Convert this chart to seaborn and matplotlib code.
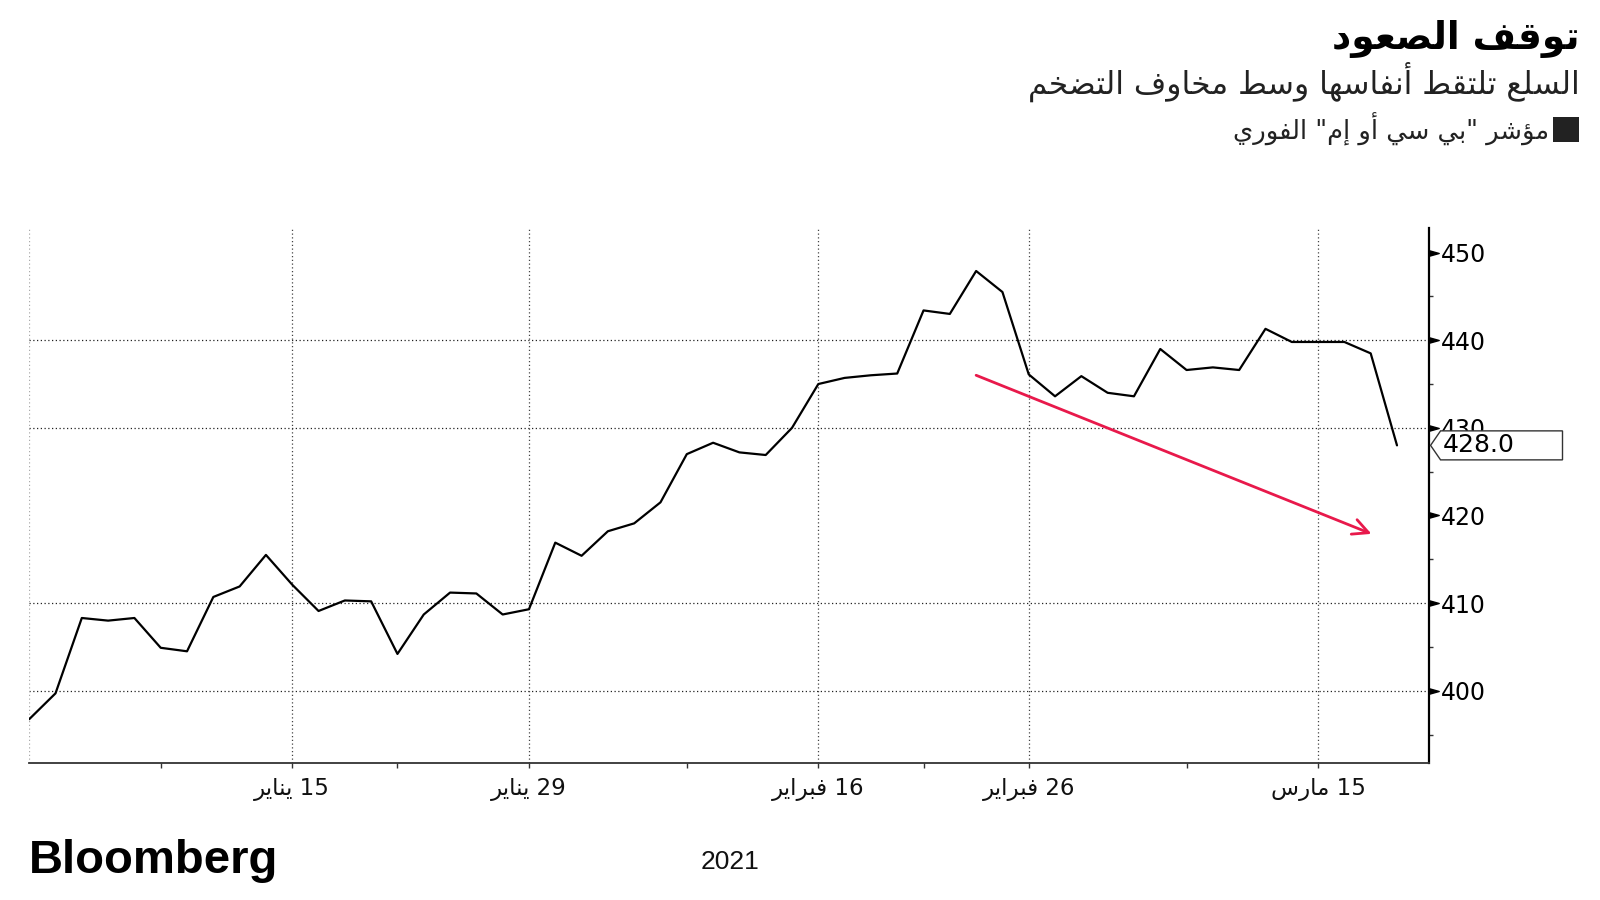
import numpy as np
import pandas as pd
import matplotlib
matplotlib.use("Agg")
import matplotlib.pyplot as plt
import seaborn as sns
from matplotlib.patches import Polygon, Rectangle
from matplotlib.path import Path
from matplotlib.markers import MarkerStyle
from matplotlib.transforms import IdentityTransform

# ---------------- data ----------------
holidays = ["2021-01-01", "2021-01-18", "2021-02-15"]
start_date = "2020-12-31"
end_date = "2021-03-18"
values = [396.75, 399.7, 408.3, 408.0, 408.3, 404.9, 404.5, 410.7, 411.9, 415.5,
          412.1, 409.1, 410.3, 410.2, 404.2, 408.7, 411.2, 411.1, 408.7, 409.3,
          416.9, 415.4, 418.2, 419.1, 421.5, 427.0, 428.3, 427.2, 426.9, 430.0,
          435.0, 435.7, 436.0, 436.2, 443.4, 443.0, 447.9, 445.5, 436.1, 433.6,
          435.9, 434.0, 433.6, 439.0, 436.6, 436.9, 436.6, 441.3, 439.8, 439.8,
          439.8, 438.5, 428.0]
major_dates = ["2021-01-15", "2021-01-29", "2021-02-16", "2021-02-26", "2021-03-15"]
major_labels = ["15 يناير", "29 يناير", "16 فبراير", "26 فبراير", "15 مارس"]
minor_dates = ["2021-01-08", "2021-01-22", "2021-02-08", "2021-02-22", "2021-03-08"]
y_ticks = [400, 410, 420, 430, 440, 450]
y_minor = [395, 405, 415, 425, 435, 445]
grid_levels = [400, 410, 430, 440]
arrow_from = ("2021-02-24", 436.0)
arrow_to = ("2021-03-17", 417.9)
last_label = "428.0"

title = "توقف الصعود"
subtitle = "السلع تلتقط أنفاسها وسط مخاوف التضخم"
legend_label = 'مؤشر "بي سي أو إم" الفوري'
source = "Bloomberg"
year_label = "2021"

# ---------------- minimal Arabic shaping (presentation forms) ----------------
FOUR = {0x0626: 0xFE89, 0x0628: 0xFE8F, 0x062A: 0xFE95, 0x062B: 0xFE99, 0x062C: 0xFE9D,
        0x062D: 0xFEA1, 0x062E: 0xFEA5, 0x0633: 0xFEB1, 0x0634: 0xFEB5, 0x0635: 0xFEB9,
        0x0636: 0xFEBD, 0x0637: 0xFEC1, 0x0638: 0xFEC5, 0x0639: 0xFEC9, 0x063A: 0xFECD,
        0x0641: 0xFED1, 0x0642: 0xFED5, 0x0643: 0xFED9, 0x0644: 0xFEDD, 0x0645: 0xFEE1,
        0x0646: 0xFEE5, 0x0647: 0xFEE9, 0x064A: 0xFEF1}
TWO = {0x0622: 0xFE81, 0x0623: 0xFE83, 0x0624: 0xFE85, 0x0625: 0xFE87, 0x0627: 0xFE8D,
       0x0629: 0xFE93, 0x062F: 0xFEA9, 0x0630: 0xFEAB, 0x0631: 0xFEAD, 0x0632: 0xFEAF,
       0x0648: 0xFEED, 0x0649: 0xFEEF}
LAMALEF = {0x0622: 0xFEF5, 0x0623: 0xFEF7, 0x0625: 0xFEF9, 0x0627: 0xFEFB}


def shape(s):
    out = []
    i, n = 0, len(s)
    while i < n:
        c = s[i]
        o = ord(c)
        prev = s[i - 1] if i > 0 else ""
        pj = bool(prev) and ord(prev) in FOUR
        if o == 0x0644 and i + 1 < n and ord(s[i + 1]) in LAMALEF:
            out.append(chr(LAMALEF[ord(s[i + 1])] + (1 if pj else 0)))
            i += 2
            continue
        nxt = s[i + 1] if i + 1 < n else ""
        nj = bool(nxt) and (ord(nxt) in FOUR or ord(nxt) in TWO)
        if o in FOUR:
            b = FOUR[o]
            if pj and nj:
                out.append(chr(b + 3))
            elif pj:
                out.append(chr(b + 1))
            elif nj:
                out.append(chr(b + 2))
            else:
                out.append(chr(b))
        elif o in TWO:
            out.append(chr(TWO[o] + (1 if pj else 0)))
        elif o == 0x0621:
            out.append("\uFE80")
        else:
            out.append(c)
        i += 1
    return "".join(out)


def ar(s):
    t = shape(s)
    runs, cur, cur_ltr = [], "", None
    for ch in t:
        is_ltr = ch.isascii() and (ch.isalnum() or ch == ".")
        if cur_ltr is None or is_ltr == cur_ltr:
            cur += ch
        else:
            runs.append((cur, cur_ltr))
            cur = ch
        cur_ltr = is_ltr
    if cur:
        runs.append((cur, cur_ltr))
    return "".join(r if l else r[::-1] for r, l in reversed(runs))


# ---------------- figure ----------------
sns.set_style("white")
plt.rcParams["font.family"] = ["DejaVu Sans"]

dates = pd.bdate_range(start_date, end_date, freq="C", holidays=holidays)
df = pd.DataFrame({"pos": np.arange(len(dates)), "value": values})
loc = lambda d: dates.get_loc(pd.Timestamp(d))

fig = plt.figure(figsize=(16, 9), dpi=100)
ax = fig.add_axes([0.01825, 0.1522, 0.8746, 0.5944])

for v in grid_levels:
    ax.axhline(v, color="#222222", lw=0.9, ls=(0, (1, 2)), zorder=0.5)
for d in major_dates:
    ax.axvline(loc(d), color="#444444", lw=0.9, ls=(0, (1, 2)), zorder=0.5)
ax.axvline(0, color="#aaaaaa", lw=0.9, ls=(0, (1, 2)), zorder=0.5)

sns.lineplot(data=df, x="pos", y="value", ax=ax, color="black", lw=1.6, zorder=3)

ax.set_xlim(0, 53.2)
ax.set_ylim(391.75, 452.8)
ax.set_xlabel("")
ax.set_ylabel("")

for s in ["top", "left"]:
    ax.spines[s].set_visible(False)
ax.spines["right"].set_color("black")
ax.spines["right"].set_linewidth(1.6)
ax.spines["bottom"].set_color("#333333")
ax.spines["bottom"].set_linewidth(1.3)

# y axis on the right
ax.yaxis.tick_right()
ax.set_yticks(y_ticks)
ax.set_yticklabels([str(v) for v in y_ticks])
ax.set_yticks(y_minor, minor=True)
ax.tick_params(axis="y", which="major", length=0, pad=9, labelsize=17,
               labelcolor="black", right=True, left=False)
ax.tick_params(axis="y", which="minor", length=3, width=1, color="#333333",
               direction="out", right=True, left=False)
tri = MarkerStyle(Path([(0, -0.28), (0, 0.28), (1, 0), (0, -0.28)], closed=True))
ax.plot(np.ones(len(y_ticks)), y_ticks, transform=ax.get_yaxis_transform(),
        marker=tri, ms=14, color="black", ls="none", clip_on=False, zorder=4)

# x axis
ax.set_xticks([loc(d) for d in major_dates])
ax.set_xticklabels([ar(s) for s in major_labels])
ax.set_xticks([loc(d) for d in minor_dates], minor=True)
ax.tick_params(axis="x", which="both", length=3.5, width=1, color="#333333",
               direction="out", bottom=True, pad=7, labelsize=16.5, labelcolor="#111111")

# red trend arrow
ax.annotate("", xy=(loc(arrow_to[0]) + 0.03, arrow_to[1]),
            xytext=(loc(arrow_from[0]), arrow_from[1]),
            arrowprops=dict(arrowstyle="->", color="#e8194b", lw=2.0,
                            mutation_scale=28, shrinkA=0, shrinkB=0),
            zorder=5)

# last value flag
yv = ax.transData.transform((0, values[-1]))[1]
xs = ax.transAxes.transform((1, 0))[0]
h = 14.5
flag = Polygon([(xs + 2, yv), (xs + 12, yv + h), (1562.5, yv + h), (1562.5, yv - h),
                (xs + 12, yv - h)], closed=True, transform=IdentityTransform(),
               facecolor="white", edgecolor="#333333", lw=1.0, zorder=10)
fig.add_artist(flag)
fig.text((xs + 14) / 1600, yv / 900, last_label, fontsize=18, ha="left", va="center",
         color="black", zorder=11)

# titles
fig.text(0.9875, 0.957, ar(title), fontsize=27, fontweight="bold", ha="right",
         va="center", color="black")
fig.text(0.9875, 0.909, ar(subtitle), fontsize=22.5, ha="right", va="center",
         color="#222222")
fig.text(0.968, 0.856, ar(legend_label), fontsize=18.5, ha="right", va="center",
         color="#222222")
fig.add_artist(Rectangle((1553, 900 - 142), 26, 25, transform=IdentityTransform(),
                         facecolor="#222222", edgecolor="none"))

fig.text(0.018, 0.043, source, fontsize=34, fontweight="bold", ha="left",
         va="center", family=["Liberation Sans", "DejaVu Sans"], color="black")
fig.text(0.456, 0.042, year_label, fontsize=19, ha="center", va="center",
         family=["Liberation Sans", "DejaVu Sans"], color="#111111")

fig.savefig("out.png", dpi=100)
